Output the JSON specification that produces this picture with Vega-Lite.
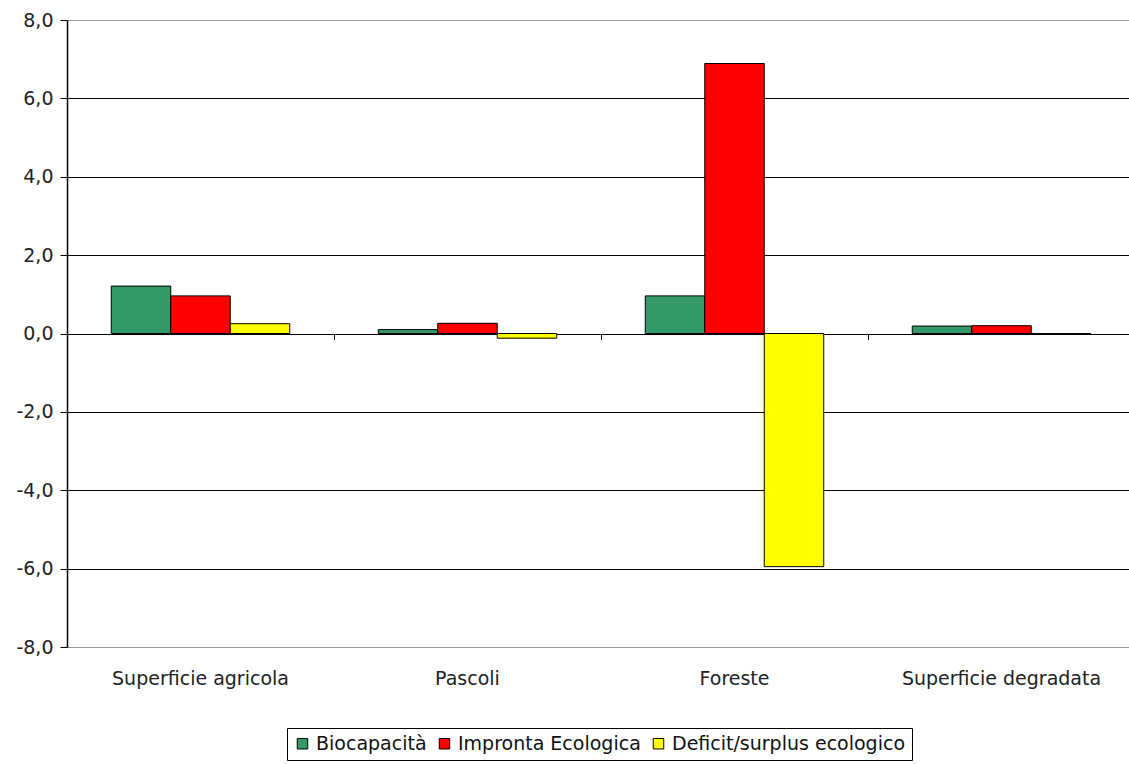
{
  "$schema": "https://vega.github.io/schema/vega-lite/v6.json",
  "autosize": "none",
  "width": 1062,
  "height": 627,
  "padding": {"left": 67, "top": 20, "right": 0, "bottom": 117},
  "background": "white",
  "config": {
    "view": {"stroke": null},
    "font": "DejaVu Sans",
    "axis": {"labelFont": "DejaVu Sans", "labelColor": "#222222", "labelFontSize": 19, "labelLimit": 400}
  },
  "data": {
    "values": [
      {"area": "Superficie agricola", "serie": "Biocapacità", "valore": 1.21},
      {"area": "Superficie agricola", "serie": "Impronta Ecologica", "valore": 0.96},
      {"area": "Superficie agricola", "serie": "Deficit/surplus ecologico", "valore": 0.25},
      {"area": "Pascoli", "serie": "Biocapacità", "valore": 0.1},
      {"area": "Pascoli", "serie": "Impronta Ecologica", "valore": 0.26},
      {"area": "Pascoli", "serie": "Deficit/surplus ecologico", "valore": -0.12},
      {"area": "Foreste", "serie": "Biocapacità", "valore": 0.96},
      {"area": "Foreste", "serie": "Impronta Ecologica", "valore": 6.89},
      {"area": "Foreste", "serie": "Deficit/surplus ecologico", "valore": -5.95},
      {"area": "Superficie degradata", "serie": "Biocapacità", "valore": 0.19},
      {"area": "Superficie degradata", "serie": "Impronta Ecologica", "valore": 0.2},
      {"area": "Superficie degradata", "serie": "Deficit/surplus ecologico", "valore": 0}
    ]
  },
  "encoding": {
    "xOffset": {
      "field": "serie",
      "type": "nominal",
      "sort": ["Biocapacità", "Impronta Ecologica", "Deficit/surplus ecologico"],
      "scale": {"paddingInner": 0, "paddingOuter": 0.744}
    },
    "y": {
      "field": "valore",
      "type": "quantitative",
      "scale": {"domain": [-8, 8], "nice": false, "zero": true},
      "axis": {
        "title": null,
        "values": [-8, -6, -4, -2, 0, 2, 4, 6, 8],
        "labelExpr": "replace(replace(format(datum.value, '.1f'), '.', ','), '\u2212', '-')",
        "grid": true,
        "gridColor": {"condition": {"test": "abs(datum.value) == 8", "value": "#9a9a9a"}, "value": "#000000"},
        "gridWidth": 1.2,
        "domainColor": "#000000",
        "domainWidth": 1.5,
        "tickColor": "#000000",
        "tickSize": 7,
        "labelPadding": 7
      }
    }
  },
  "layer": [
    {
      "mark": {"type": "bar", "opacity": 0},
      "encoding": {
        "x": {
          "field": "area",
          "type": "nominal",
          "sort": ["Superficie agricola", "Pascoli", "Foreste", "Superficie degradata"],
          "scale": {"range": [0, 1068], "paddingInner": 0, "paddingOuter": 0},
          "axis": {
            "orient": "bottom",
            "title": null,
            "labels": false,
            "domain": false,
            "grid": false,
            "ticks": true,
            "bandPosition": 0,
            "tickColor": "#000000",
            "tickSize": 6,
            "offset": -313.5
          }
        }
      }
    },
    {
      "mark": {"type": "bar", "stroke": "#000000", "strokeWidth": 1},
      "encoding": {
        "x": {
          "field": "area",
          "type": "nominal",
          "sort": ["Superficie agricola", "Pascoli", "Foreste", "Superficie degradata"],
          "scale": {"range": [0, 1068], "paddingInner": 0, "paddingOuter": 0},
          "axis": {
            "orient": "bottom",
            "title": null,
            "labelAngle": 0,
            "domain": false,
            "ticks": false,
            "grid": false,
            "labelPadding": 22
          }
        },
        "color": {
          "field": "serie",
          "type": "nominal",
          "scale": {
            "domain": ["Biocapacità", "Impronta Ecologica", "Deficit/surplus ecologico"],
            "range": ["#339966", "#ff0000", "#ffff00"]
          },
          "legend": {
            "title": null,
            "orient": "none",
            "direction": "horizontal",
            "legendX": 220,
            "legendY": 708,
            "strokeColor": "#000000",
            "fillColor": "#ffffff",
            "padding": 6,
            "symbolType": "square",
            "symbolSize": 110,
            "symbolStrokeColor": "#000000",
            "symbolStrokeWidth": 1,
            "symbolOpacity": 1,
            "labelFont": "DejaVu Sans",
            "labelFontSize": 19,
            "labelLimit": 400,
            "labelColor": "#111111",
            "labelOffset": 4,
            "columnPadding": 8
          }
        }
      }
    }
  ],
  "resolve": {"axis": {"x": "independent"}}
}
